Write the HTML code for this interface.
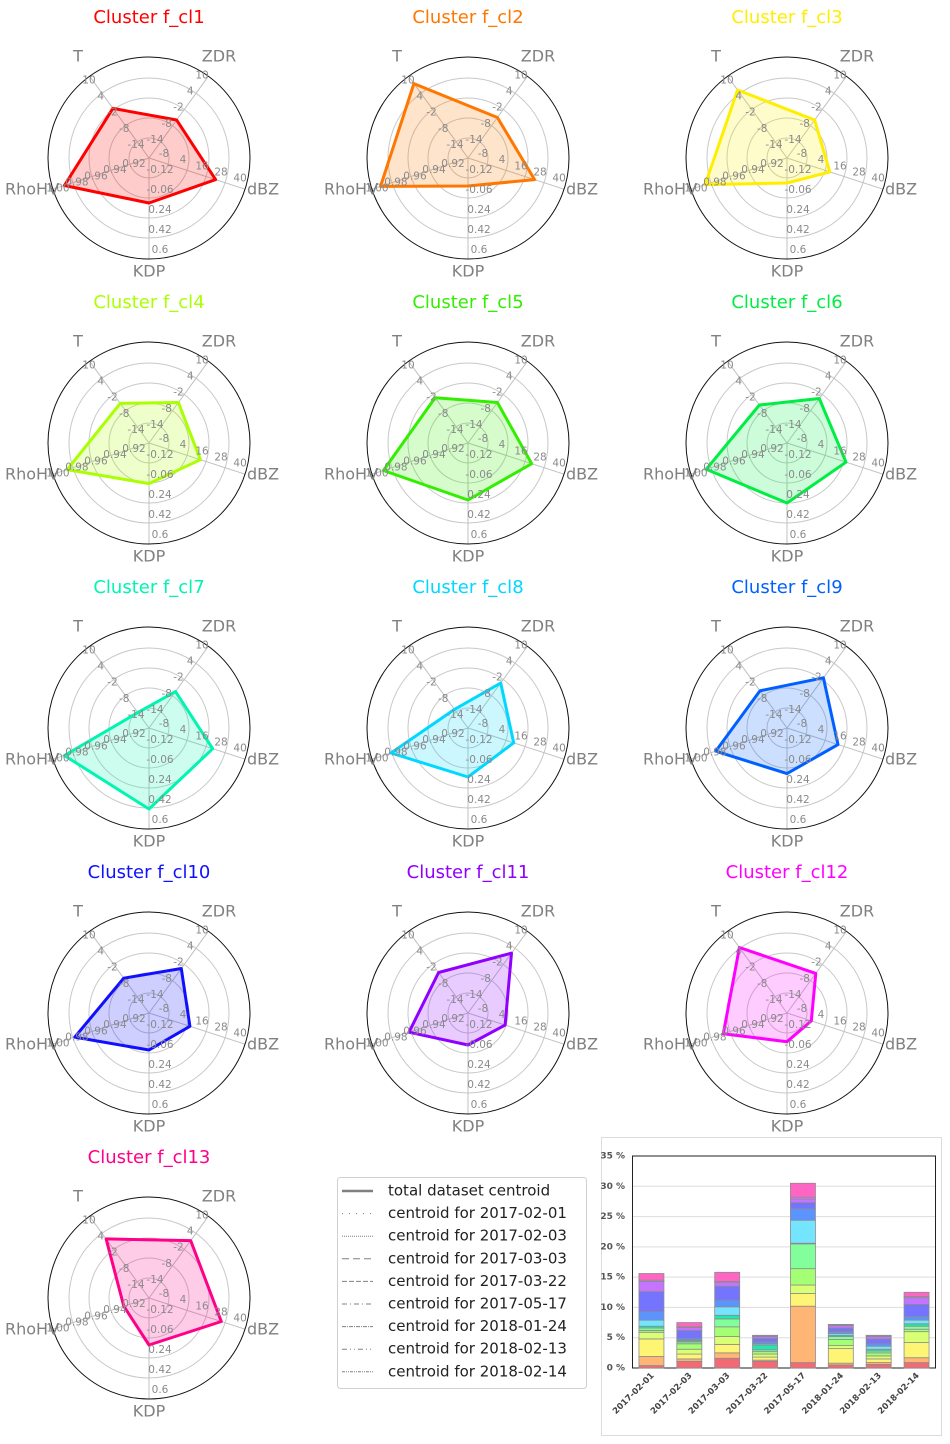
<!DOCTYPE html>
<html><head><meta charset="utf-8"><style>
body{margin:0;background:#fff;}
svg{display:block;font-family:"DejaVu Sans","Liberation Sans",sans-serif;}
</style></head><body>
<svg id="root" width="950" height="1444" viewBox="0 0 950 1444" xmlns="http://www.w3.org/2000/svg"></svg>
<script>
// ---- radar data ----
const axisNames = ['T','ZDR','dBZ','KDP','RhoHV'];
const tickT = ['-14','-8','-2','4','10'];
const tickZDR = ['-14','-8','-2','4','10'];
const tickDBZ = ['-8','4','16','28','40'];
const tickKDP = ['-0.12','-0.06','0.24','0.42','0.6'];
const tickRHO = ['0.92','0.94','0.96','0.98','1.00'];
const clusterNames = ['f_cl1','f_cl2','f_cl3','f_cl4','f_cl5','f_cl6','f_cl7','f_cl8','f_cl9','f_cl10','f_cl11','f_cl12','f_cl13'];
const clusterColors = ['#ff0000','#ff7700','#ffee00','#aaff00','#33ee00','#00ee44','#00f5b0','#00d8ff','#0060ff','#1010ff','#9000ff','#ff00ff','#ff0088'];
// values per cluster: T, ZDR, dBZ, KDP, RhoHV
const valT   = [4.4, 13.6, 11.2, 0.7, 2.8, 0.1, -8.3, -7.1, -0.2, -1.1, 1.0, 10.3, 7.9];
const valZDR = [0.1, 1.0, 0.1, 1.0, 1.0, 2.5, -0.5, 2.7, 4.6, 2.5, 8.2, 0.7, 7.3];
const valDBZ = [34, 34, 19, 24.4, 32.2, 29.2, 32.2, 20.8, 24.2, 17.8, 15.4, 7.3, 37.6];
const valKDP = [0.285, 0.06, 0.015, 0.245, 0.393, 0.42, 0.609, 0.321, 0.29, 0.195, 0.12, 0.07, 0.303];
const valRHO = [1.009, 1.012, 1.006, 1.006, 1.009, 1.005, 1.009, 1.001, 0.995, 0.998, 0.982, 0.987, 0.9465];

// ---- bar chart data ----
const barDates = ['2017-02-01','2017-02-03','2017-03-03','2017-03-22','2017-05-17','2018-01-24','2018-02-13','2018-02-14'];
const barTicks = [0,5,10,15,20,25,30,35];
const seg1 = [0.4,1.5,2.9,1.1,0.3,0.4,0.3,1.0,1.4,3.3,1.7,0.2,1.1];
const seg2 = [1.1,0.4,0.8,0.8,0.9,0.3,0.2,0.1,0.3,1.3,0.5,0.1,0.7];
const seg3 = [1.6,0.9,1.4,1.3,1.6,1.3,0.6,1.4,1.1,2.3,0.6,0.2,1.5];
const seg4 = [1.1,0.2,0.5,0.5,0.4,0.3,0.8,0.2,0.3,0.6,0.3,0.1,0.1];
const seg5 = [0.9,9.3,2.1,1.4,2.7,4.1,0.1,3.8,1.9,1.0,0.6,0.3,2.3];
const seg6 = [0.5,0.3,2.4,0.5,1.0,0.5,0.2,0.3,0.3,0.6,0.4,0.1,0.1];
const seg7 = [0.6,0.3,0.6,0.5,0.5,0.3,0.3,0.5,0.4,0.8,0.4,0.1,0.1];
const seg8 = [0.9,0.8,2.5,1.8,0.4,0.5,0.4,0.6,0.6,2.0,1.1,0.2,0.7];
const barFills = ['#f46a74','#ffb574','#fff574','#d9ff74','#a4ff74','#82ff9a','#22e8b0','#74e4ff','#5c94ff','#7474ff','#c474ff','#e474ff','#ff66c4'];

// ---- legend ----
const legendLabels = ['total dataset centroid','centroid for 2017-02-01','centroid for 2017-02-03','centroid for 2017-03-03','centroid for 2017-03-22','centroid for 2017-05-17','centroid for 2018-01-24','centroid for 2018-02-13','centroid for 2018-02-14'];
const legendDash = ['', '1 6', '1 1', '7 4', '5 2', '5 3 1 3', '4 1 1 1', '5 3 1 3 1 3', '3 1 1 1 1 1'];

const NS='http://www.w3.org/2000/svg';
const root=document.getElementById('root');
function mk(tag,attrs,parent){const e=document.createElementNS(NS,tag);for(const k in attrs)e.setAttribute(k,attrs[k]);(parent||root).appendChild(e);return e;}

const axisDeg=[126,54,-18,-90,198];
const axisTicks=[tickT,tickZDR,tickDBZ,tickKDP,tickRHO];
const axisVals=[valT,valZDR,valDBZ,valKDP,valRHO];
const labelOff=[[-13,-13],[6,-18],[15,-4],[11,12],[-15,6]];
const nameOff=[[-71,-101],[70,-101],[114,32],[0,114],[-117,32]];
const RING=20;
function rScale(v,ticks){
  const t=ticks.map(Number);
  let i=0; while(i<t.length-2 && v>t[i+1]) i++;
  return RING*(i+(v-t[i])/(t[i+1]-t[i]));
}
function dir(k){const a=axisDeg[k]*Math.PI/180;return [Math.cos(a),-Math.sin(a)];}

clusterNames.forEach((nm,c)=>{
  const col=c%3,row=Math.floor(c/3);
  const cx=149+col*319, cy=158+row*285;
  const g=mk('g',{});
  
  
  const title=mk('text',{x:cx,y:cy-140,'text-anchor':'middle','dominant-baseline':'middle','font-size':18,fill:clusterColors[c]},g);
  title.textContent='Cluster '+nm;
  
  
  for(let k=1;k<=4;k++){
    const ring=mk('circle',{cx:cx,cy:cy,r:k*RING,fill:'none',stroke:'#c8c8c8','stroke-width':1},g);
    
    
  }
  axisNames.forEach((an,k)=>{
    const [dx,dy]=dir(k);
    const ln=mk('line',{x1:cx,y1:cy,x2:cx+dx*101,y2:cy+dy*101,stroke:'#c0c0c0','stroke-width':1},g);
    
    
  });
  const outer=mk('circle',{cx:cx,cy:cy,r:101,fill:'none',stroke:'#111','stroke-width':1},g);
  
  
  const pts=axisNames.map((an,k)=>{const r=rScale(axisVals[k][c],axisTicks[k]);const [dx,dy]=dir(k);return (cx+dx*r).toFixed(1)+','+(cy+dy*r).toFixed(1);}).join(' ');
  const poly=mk('polygon',{points:pts,fill:clusterColors[c],'fill-opacity':0.2,stroke:clusterColors[c],'stroke-width':3,'stroke-linejoin':'round'},g);
  
  
  axisNames.forEach((an,k)=>{
    const [dx,dy]=dir(k);
    axisTicks[k].forEach((tl,i)=>{
      const t=mk('text',{x:cx+dx*i*RING+labelOff[k][0],y:cy+dy*i*RING+labelOff[k][1],'text-anchor':'middle','dominant-baseline':'middle','font-size':10.5,fill:'#8a8a8a'},g);
      t.textContent=tl;
      
      
    });
    const al=mk('text',{x:cx+nameOff[k][0],y:cy+nameOff[k][1],'text-anchor':'middle','dominant-baseline':'middle','font-size':16,fill:'#808080'},g);
    al.textContent=an;
    
    
  });
});

// legend
const lg=mk('g',{});


const lbox=mk('rect',{x:337.5,y:1177.5,width:249,height:211,rx:3,fill:'#fff',stroke:'#d0d0d0'},lg);


legendLabels.forEach((lab,i)=>{
  const y=1191+i*22.6;
  const l=mk('line',{x1:342,y1:y,x2:373,y2:y,stroke:'#808080','stroke-width':i===0?2.5:1},lg);
  if(legendDash[i]) l.setAttribute('stroke-dasharray',legendDash[i]);
  
  
  const t=mk('text',{x:388,y:y,'dominant-baseline':'middle','font-size':15,fill:'#222'},lg);
  t.textContent=lab;
  
  
});

// bar chart
const bg=mk('g',{});


const panel=mk('rect',{x:601.5,y:1137.5,width:340,height:298,fill:'#fff',stroke:'#dcdcdc'},bg);


const PX0=632.5,PX1=935.5,PY0=1368,PY1=1156;
const yS=v=>PY0-(v/35)*(PY0-PY1);
barTicks.forEach(tv=>{
  const gl=mk('line',{x1:PX0,x2:PX1,y1:yS(tv),y2:yS(tv),stroke:'#dddddd','stroke-width':1},bg);
  
  
  const t=mk('text',{x:625,y:yS(tv),'text-anchor':'end','dominant-baseline':'middle','font-size':9,'font-weight':'bold',fill:'#555'},bg);
  t.textContent=tv+' %';
  
  
});
const pf=mk('rect',{x:PX0,y:PY1,width:PX1-PX0,height:PY0-PY1,fill:'none',stroke:'#222','stroke-width':1},bg);


const segs=[seg1,seg2,seg3,seg4,seg5,seg6,seg7,seg8];
const bw=(PX1-PX0)/barDates.length;
barDates.forEach((d,b)=>{
  const xc=PX0+bw*(b+0.5);
  let acc=0;
  segs[b].forEach((v,s)=>{
    const r=mk('rect',{x:xc-12.5,y:yS(acc+v),width:25,height:yS(acc)-yS(acc+v),fill:barFills[s],stroke:'#8c8c8c','stroke-width':0.8},bg);
    
    
    acc+=v;
  });
  const t=mk('text',{x:xc+3,y:1376,'text-anchor':'end','font-size':8.5,'font-weight':'bold',fill:'#444',transform:'rotate(-45 '+(xc+3)+' 1376)'},bg);
  t.textContent=d;
  
  
});
</script>
</body></html>
